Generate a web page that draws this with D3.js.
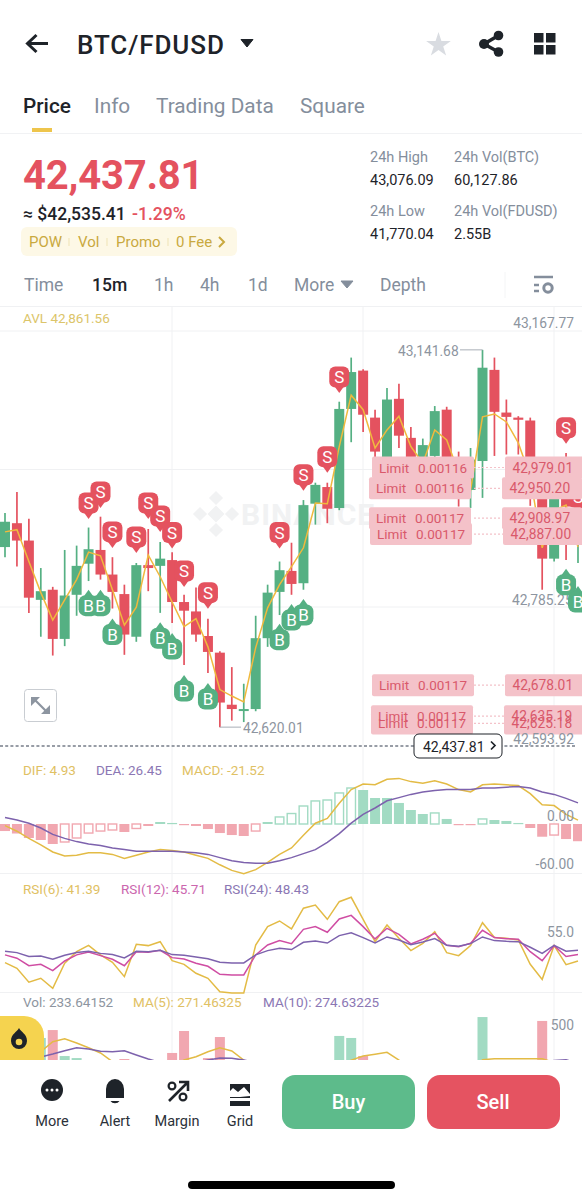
<!DOCTYPE html>
<html><head><meta charset="utf-8">
<script src="https://cdn.jsdelivr.net/npm/d3@7"></script>
<style>html,body{margin:0;padding:0;background:#fff}svg{display:block;font-family:Roboto,"Noto Sans",sans-serif}</style>
</head><body><div id="chart"></div>
<script>
// ---------- data ----------
const candleHigh=[42916,42945,42908,42840,42814,42865,42871,42896,42911,42855,42817,42847,42894,42876,42862,42803,42813,42770,42725,42703,42680,42774,42817,42849,42875,42934,42958,42958,43070,43131,43115,43059,43089,43095,43035,43019,43064,43063,43001,43006,43141.68,43131,43073,43050,43048,42976,42955,42999,42914];
const candleOpen=[42869,42902,42878,42796,42810,42742,42803,42846,42865,42831,42804,42745,42844,42843,42851,42793,42780,42746,42723,42651,42643,42645,42743,42807,42836,42819,42929,42952,42923,43060,43113,43048,42992,43074,43020,42992,42995,43059,42992,42948,42988,43114,43055,43048,43044,42937,42853,42948,42893];
const candleClose=[42904,42878,42799,42808,42742,42802,42843,42866,42831,42807,42748,42844,42840,42853,42793,42781,42748,42724,42654,42645,42645,42743,42806,42837,42818,42927,42955,42922,43060,43111,43052,43001,43073,43023,42990,43010,43057,42992,42959,42990,43117,43056,43049,43045,42987,42853,42937,42925,42907];
const candleLow=[42855,42842,42778,42745,42719,42732,42774,42822,42824,42784,42720,42738,42808,42778,42764,42706,42738,42695,42620.01,42629,42627,42642,42731,42775,42803,42810,42900,42902,42920,43014,43028,42966,42976,43006,42981,42976,42969,42965,42925,42923,42937,42995,42997,42997,42926,42810,42849,42851,42847];
const priceMA=[42890,42893,42849,42806,42768,42796,42824,42862,42857,42810,42761,42786,42858,42828,42793,42759,42770,42731,42672,42663,42655,42730,42785,42817,42842,42868,42930,42929,43008,43079,43059,43006,43031,43050,43008,42985,43031,43017,42972,42948,43049,43053,43042,43013,42966,42868,42920,42927,42869];
const priceDomain=[42593.92,43167.77];

const sellIndex=[7,8,9,11,12,13,14,15,17,23,25,27,28,47,48];
const sellPrice=[42930,42945,42890,42883,42930,42912,42889,42836,42806,42889,42969,42994,43104,43034,42938];
const buyIndex=[7,8,9,13,14,15,17,23,24,25,47,48];
const buyPrice=[42788,42788,42748,42743,42728,42670,42659,42741,42768,42775,42817,42793];

const limitPrices=[42979.01,42950.20,42908.97,42887.00,42678.01,42635.19,42625.18];
const limitQty=["0.00116","0.00116","0.00117","0.00117","0.00117","0.00117","0.00117"];

const macdHist=[-8.8,-11.9,-17.5,-20,-25,-22.5,-17.5,-11.3,-8.8,-7.5,-10,-5.6,-2.5,2.5,1.3,-1.3,-2.5,-6.3,-11.3,-13.8,-15,-8.8,2.5,8.8,13.1,22.5,28.8,30,38.8,45,42.5,32.5,32.5,26.3,17.5,12.5,13.8,6.3,-1.3,-1.3,6.3,5,3.8,1.3,-5,-15.9,-13.8,-18.8,-21.52];
const macdDIF=[-2,-9,-18,-26,-35,-40,-39,-36,-36,-38,-43,-39,-35,-32,-33,-35,-39,-43,-51,-58,-62,-57,-48,-38,-30,-14,1,7,26,43,50,49,56,57,53,51,54,50,43,40,49,50,49,48,38,24,23,12,4.93];
const macdDEA=[8,5,1,-5,-13,-18,-22,-25,-27,-30,-32,-34,-34,-34,-34,-35,-36,-38,-42,-46,-48,-49,-49,-46,-42,-37,-32,-23,-12,1,12,20,29,33,37,40,42,43,43,43,45,45,46,47,45,40,37,32,26.45];

const rsi6=[40.3,36.6,27.4,30,23.4,39.9,47.5,51.7,45.4,40.5,31.1,52.4,51.5,54.1,41.6,39.2,33.3,30,21.2,20.4,20.4,51.9,64,67.7,62.5,76.1,78.2,68.8,80.4,83.3,68.8,54.1,65.1,56.3,48.2,53,60.7,46.9,44.9,51.5,66.6,56.8,56.3,55.2,39.2,29.3,51.5,39,41.39];
const rsi12=[45.4,43.2,38.3,39.2,35,41.4,45.4,47.3,44.9,42.5,38.3,47.5,47.1,48.4,43.6,42.7,39.9,37.9,32.6,32.2,32.2,45.4,51.9,54.8,52.8,62.2,64,60.3,69,71.4,64,55.9,62.9,58.9,52.6,55.7,59.6,51.7,50.8,53,61.6,56.8,56.1,55.7,47.5,41.6,51.5,44.3,45.71];
const rsi24=[47.8,46.9,44.3,44.7,42.5,45.1,46.9,47.8,46.4,45.6,43.4,47.8,47.5,48.4,45.6,45.1,44,42.9,40.5,40.1,40.1,45.4,48.2,49.7,48.9,53.7,54.6,53.2,58.1,60,56.8,53.2,57.2,55.2,52.1,53.9,56.1,51.7,51.1,52.8,57.2,54.8,54.3,54.1,50.4,46.4,51.7,47.8,48.43];

// bars below the panel's cut-off edge cannot be read: those are rough estimates
const volume=[200,210,230,463,522,328,313,190,180,200,306,220,180,170,351,515,250,313,470,220,180,280,210,170,180,220,190,210,478,463,328,240,190,180,170,190,210,170,160,200,619,230,170,150,210,590,240,220,233.64];
const volMA5=[150,180,200,360,435,457,425,390,351,286,230,180,150,160,250,298,323,360,390,366,298,240,180,160,170,180,200,230,250,298,328,341,356,298,220,180,160,150,150,160,300,308,308,308,308,308,280,271,271.46];
const volMA10=[120,250,306,321,343,368,390,381,363,360,368,336,306,280,260,260,280,298,313,311,298,280,270,260,250,240,230,230,240,250,260,265,270,270,260,250,240,230,230,230,250,260,265,270,270,280,295,300,274.63];

const tabLabels=["Price","Info","Trading Data","Square"];
const intervalLabels=["Time","15m","1h","4h","1d","More","Depth"];

// ---------- styles and layout ----------
const UP="#55b083",DOWN="#e4525f",UPL="#a2dbc3",DOWNL="#f1a7b0",INK="#1e2329",GRAY="#848e9c",
      YEL="#e3bb45",PUR="#7d62ad",MAG="#cf4da3",GRID="#f0f1f3",LBL="#8d95a0",PINK="#f4c2c9",PTXT="#d9596b";
const W=582,H=1200;
const svg=d3.select("#chart").append("svg").attr("width",W).attr("height",H).attr("viewBox",[0,0,W,H]);
const T=(x,y,s,o={})=>svg.append("text").attr("x",x).attr("y",y).attr("dominant-baseline","central")
   .attr("font-size",o.size||14).attr("fill",o.fill||INK).attr("font-weight",o.weight||400)
   .attr("text-anchor",o.anchor||"start").attr("letter-spacing",o.ls||null).text(s);

const n=candleOpen.length, idx=d3.range(n);
const x=d3.scaleLinear().domain([0,n-1]).range([5,578]);
const y=d3.scaleLinear().domain(priceDomain).range([746,331]);
const yMacd=d3.scaleLinear().domain([-60,0]).range([872,824]);
const yRsi=d3.scaleLinear().domain([0,100]).range([1023.9,871.9]);
const yVol=d3.scaleLinear().domain([0,500]).range([1100,1033]);

// ---------- header ----------
svg.append("path").attr("d","M48,43.5H28M36.5,35L27.5,43.5L36.5,52").attr("fill","none").attr("stroke",INK).attr("stroke-width",3);
T(77,44.5,"BTC/FDUSD",{size:26,weight:500,ls:"0.9px"});
svg.append("path").attr("d","M241,39.5H253L247,47Z").attr("fill",INK).attr("stroke",INK).attr("stroke-linejoin","round");
svg.append("path").attr("d",d3.symbol(d3.symbolStar,190)()).attr("transform","translate(438.5,45)").attr("fill","#d9dce1");
const sh=[[484,44],[498.5,35.5],[498.5,52]];
svg.append("path").attr("d",`M498.5,35.5L484,44L498.5,52`).attr("fill","none").attr("stroke",INK).attr("stroke-width",3.5);
sh.forEach((p,i)=>svg.append("circle").attr("cx",p[0]).attr("cy",p[1]).attr("r",i?4.8:5).attr("fill",INK));
[[534,33],[546,33],[534,45],[546,45]].forEach(p=>svg.append("rect").attr("x",p[0]).attr("y",p[1]).attr("width",9.5).attr("height",9.5).attr("fill",INK));

const tabX=[23,94,156,300];
tabLabels.forEach((t,i)=>T(tabX[i],106,t,{size:20.8,weight:i?400:500,fill:i?GRAY:INK}));
svg.append("rect").attr("x",32).attr("y",128).attr("width",20).attr("height",4).attr("fill","#eec54c");
svg.append("line").attr("x1",0).attr("x2",W).attr("y1",133.5).attr("y2",133.5).attr("stroke","#f1f2f4");

T(23,175,"42,437.81",{size:40,weight:700,fill:DOWN,ls:"-0.2px"});
T(23,214,"≈ $42,535.41",{size:17.5,weight:500,fill:INK});
T(132,214,"-1.29%",{size:17.6,weight:500,fill:DOWN});
svg.append("rect").attr("x",21).attr("y",227).attr("width",216).attr("height",29).attr("rx",6).attr("fill","#fdf8e6");
[["POW",29],["Vol",78],["Promo",116],["0 Fee",176]].forEach(d=>T(d[1],242,d[0],{size:15,fill:"#c9a93f"}));
[69,107,168].forEach(v=>svg.append("line").attr("x1",v).attr("x2",v).attr("y1",238).attr("y2",246).attr("stroke","#efe3b5"));
svg.append("path").attr("d","M219,237L224,242L219,247").attr("fill","none").attr("stroke","#c9a93f").attr("stroke-width",2);

[["24h High",370,157],["24h Vol(BTC)",454,157],["24h Low",370,211],["24h Vol(FDUSD)",454,211]].forEach(d=>T(d[1],d[2],d[0],{size:14.5,fill:GRAY}));
[["43,076.09",370,180],["60,127.86",454,180],["41,770.04",370,234],["2.55B",454,234]].forEach(d=>T(d[1],d[2],d[0],{size:14.5,fill:INK}));

const intX=[24,92,154,200,248,294,380];
intervalLabels.forEach((t,i)=>T(intX[i],285,t,{size:17.5,weight:i==1?500:400,fill:i==1?INK:GRAY}));
svg.append("path").attr("d","M341,281H353L347,288Z").attr("fill",GRAY).attr("stroke",GRAY).attr("stroke-linejoin","round");
svg.append("line").attr("x1",505).attr("x2",505).attr("y1",272).attr("y2",298).attr("stroke","#f4f5f6");
svg.append("path").attr("d","M534,277H553M534,285H539M534,291H539").attr("stroke",GRAY).attr("stroke-width",2.4).attr("fill","none");
svg.append("circle").attr("cx",548).attr("cy",288).attr("r",4.2).attr("fill","none").attr("stroke",GRAY).attr("stroke-width",3);

// ---------- grid ----------
[306.5,331,469.5,607,873.5,992.5].forEach(v=>svg.append("line").attr("x1",0).attr("x2",W).attr("y1",v).attr("y2",v).attr("stroke",GRID));
[172,363,554].forEach(v=>svg.append("line").attr("x1",v).attr("x2",v).attr("y1",307).attr("y2",1060).attr("stroke",GRID));

// watermark
const wm=svg.append("g").attr("fill","#f1f2f3");
[[216,498,5],[216,530,5],[200,514,5],[232,514,5],[216,514,6]].forEach(d=>wm.append("rect").attr("x",-d[2]).attr("y",-d[2]).attr("width",2*d[2]).attr("height",2*d[2]).attr("transform",`translate(${d[0]},${d[1]}) rotate(45)`));
T(241,514,"BINANCE",{size:30,weight:700,fill:"#f1f2f3",ls:"1px"});

// ---------- price panel ----------
T(23,318,"AVL 42,861.56",{size:13.5,fill:"#dcc56a"});
T(574,323,"43,167.77",{size:13.8,fill:LBL,anchor:"end"});

const isUp=i=>candleClose[i]>=candleOpen[i];
const candles=svg.append("g");
candles.selectAll("line").data(idx).join("line")
  .attr("x1",x).attr("x2",x).attr("y1",i=>y(candleHigh[i])).attr("y2",i=>y(candleLow[i]))
  .attr("stroke",i=>isUp(i)?UP:DOWN).attr("stroke-width",1.7);
candles.selectAll("rect").data(idx).join("rect")
  .attr("x",i=>x(i)-5).attr("width",10)
  .attr("y",i=>y(Math.max(candleOpen[i],candleClose[i])))
  .attr("height",i=>Math.max(2,Math.abs(y(candleOpen[i])-y(candleClose[i]))))
  .attr("fill",i=>isUp(i)?UP:DOWN);

const lineOf=(arr,sc)=>d3.line().x(i=>x(i)).y(i=>sc(arr[i]))(idx);
svg.append("path").attr("d",lineOf(priceMA,y)).attr("fill","none").attr("stroke","#f0b93e").attr("stroke-width",1.5);

// extreme labels
const iHi=candleHigh.indexOf(d3.max(candleHigh)), iLo=candleLow.indexOf(d3.min(candleLow));
svg.append("path").attr("d",`M${x(iHi)},${y(43141.68)}H460`).attr("stroke","#a8aeb6").attr("fill","none");
T(398,351,"43,141.68",{size:13.8,fill:LBL});
svg.append("path").attr("d",`M${x(iLo)},${y(42620.01)}H241`).attr("stroke","#a8aeb6").attr("fill","none");
T(243,728,"42,620.01",{size:13.8,fill:LBL});
T(512,600,"42,785.25",{size:13.8,fill:LBL});

// trade markers: shapes first, letters on top so overlapping tags keep both letters
const mk=svg.append("g"), mkText=svg.append("g");
sellIndex.forEach((ix,k)=>{
  const tr=`translate(${x(ix)},${y(sellPrice[k])})`;
  const g=mk.append("g").attr("transform",tr);
  g.append("path").attr("d","M-5,9L0,16L5,9Z").attr("fill",DOWN);
  g.append("rect").attr("x",-10).attr("y",-10.5).attr("width",20).attr("height",21).attr("rx",6).attr("fill",DOWN);
  mkText.append("text").attr("transform",tr).attr("text-anchor","middle").attr("dominant-baseline","central").attr("font-size",17).attr("fill","#fff").text("S");
});
buyIndex.forEach((ix,k)=>{
  const tr=`translate(${x(ix)},${y(buyPrice[k])})`;
  const g=mk.append("g").attr("transform",tr);
  g.append("path").attr("d","M-5,-9L0,-16L5,-9Z").attr("fill",UP);
  g.append("rect").attr("x",-10).attr("y",-10.5).attr("width",20).attr("height",21).attr("rx",7).attr("fill",UP);
  mkText.append("text").attr("transform",tr).attr("text-anchor","middle").attr("dominant-baseline","central").attr("font-size",17).attr("fill","#fff").text("B");
});

// limit orders
const limitNudge=[0,-3,-3,-2,0,-1,-1];
const lim=svg.append("g");
limitPrices.forEach((p,k)=>{
  const yy=y(p);
  lim.append("line").attr("x1",474).attr("x2",505).attr("y1",yy).attr("y2",yy).attr("stroke",PINK).attr("stroke-dasharray","2 2").attr("stroke-width",1.2);
});
limitPrices.forEach((p,k)=>{
  const yy=y(p),d=limitNudge[k];
  lim.append("rect").attr("x",372+d).attr("y",yy-11).attr("width",102).attr("height",22).attr("rx",2).attr("fill",PINK);
  lim.append("rect").attr("x",505+d).attr("y",yy-11).attr("width",80).attr("height",22).attr("rx",2).attr("fill",PINK);
});
limitPrices.forEach((p,k)=>{
  const yy=y(p),d=limitNudge[k];
  [[379+d,"Limit"],[418+d,limitQty[k]],[512.5+d,d3.format(",.2f")(p)]].forEach(c=>
    lim.append("text").attr("x",c[0]).attr("y",yy).attr("dominant-baseline","central").attr("font-size",c[1].includes(",")?13.8:13.5).attr("fill",PTXT).text(c[1]));
});

// last price line
T(574,739,"42,593.92",{size:13.8,fill:LBL,anchor:"end"});
svg.append("line").attr("x1",0).attr("x2",576).attr("y1",746).attr("y2",746).attr("stroke","#777e89").attr("stroke-dasharray","3 2.2").attr("stroke-width",1.3);
svg.append("rect").attr("x",414).attr("y",734).attr("width",88).attr("height",24).attr("rx",5).attr("fill","#fff").attr("stroke",INK);
T(423,747,"42,437.81",{size:14,fill:INK});
svg.append("path").attr("d","M491,741.5L495,745.5L491,749.5").attr("fill","none").attr("stroke",INK).attr("stroke-width",1.7);

// expand icon
svg.append("rect").attr("x",24.5).attr("y",689.5).attr("width",32).attr("height",32).attr("rx",3).attr("fill","#fff").attr("stroke","#c9cdd2");
svg.append("path").attr("d","M34,699L47,712").attr("stroke",LBL).attr("stroke-width",2.2);
svg.append("path").attr("d","M31,697H40L31,706ZM50,714H41L50,705Z").attr("fill",LBL);

// ---------- MACD ----------
T(23,770,"DIF: 4.93",{size:13.5,fill:"#dfc164"});
T(96,770,"DEA: 26.45",{size:13.5,fill:"#8b77b4"});
T(182,770,"MACD: -21.52",{size:13.5,fill:"#dfc164"});
const hollow=i=>i>0&&macdHist[i]>macdHist[i-1]&&Math.abs(macdHist[i])>2.6;
svg.append("g").selectAll("rect").data(idx).join("rect")
  .attr("x",i=>x(i)-5+(hollow(i)?.7:0))
  .attr("width",i=>hollow(i)?8.6:10)
  .attr("y",i=>Math.min(yMacd(0),yMacd(macdHist[i])))
  .attr("height",i=>Math.max(1.2,Math.abs(yMacd(macdHist[i])-yMacd(0))))
  .attr("fill",i=>hollow(i)?"#fff":(macdHist[i]>=0?UPL:DOWNL))
  .attr("stroke",i=>hollow(i)?(macdHist[i]>=0?UPL:DOWNL):"none").attr("stroke-width",1.4);
svg.append("path").attr("d",lineOf(macdDIF,yMacd)).attr("fill","none").attr("stroke",YEL).attr("stroke-width",1.5);
svg.append("path").attr("d",lineOf(macdDEA,yMacd)).attr("fill","none").attr("stroke",PUR).attr("stroke-width",1.5);
T(574,816,"0.00",{size:13.8,fill:LBL,anchor:"end"});
T(574,864,"-60.00",{size:13.8,fill:LBL,anchor:"end"});

// ---------- RSI ----------
T(23,889,"RSI(6): 41.39",{size:13.5,fill:"#dfc164"});
T(121,889,"RSI(12): 45.71",{size:13.5,fill:"#cb66ae"});
T(224,889,"RSI(24): 48.43",{size:13.5,fill:"#8b77b4"});
[[rsi6,YEL],[rsi12,MAG],[rsi24,PUR]].forEach(d=>svg.append("path").attr("d",lineOf(d[0],yRsi)).attr("fill","none").attr("stroke",d[1]).attr("stroke-width",1.5));
T(574,932,"55.0",{size:13.8,fill:LBL,anchor:"end"});

// ---------- volume ----------
T(23,1002,"Vol: 233.64152",{size:13.5,fill:LBL});
T(133,1002,"MA(5): 271.46325",{size:13.5,fill:"#dfc164"});
T(263,1002,"MA(10): 274.63225",{size:13.5,fill:"#8b77b4"});
svg.append("clipPath").attr("id","vclip").append("rect").attr("x",0).attr("y",1008).attr("width",W).attr("height",52);
const vg=svg.append("g").attr("clip-path","url(#vclip)");
vg.selectAll("rect").data(idx).join("rect")
  .attr("x",i=>x(i)-5).attr("width",10)
  .attr("y",i=>yVol(volume[i])).attr("height",i=>yVol(0)-yVol(volume[i]))
  .attr("fill",i=>isUp(i)?UPL:DOWNL);
vg.append("path").attr("d",lineOf(volMA5,yVol)).attr("fill","none").attr("stroke",YEL).attr("stroke-width",1.5);
vg.append("path").attr("d",lineOf(volMA10,yVol)).attr("fill","none").attr("stroke",PUR).attr("stroke-width",1.5);
T(574,1025,"500",{size:13.8,fill:LBL,anchor:"end"});

// flame button
svg.append("path").attr("d","M0,1016H24A20,20 0 0 1 44,1036V1060H0Z").attr("fill","#f5d34f");
svg.append("path").attr("d","M19,1028C21,1032 27,1034 27,1041A8,8 0 0 1 11,1041C11,1034 17,1032 19,1028Z").attr("fill",INK);
svg.append("circle").attr("cx",19).attr("cy",1042).attr("r",3.3).attr("fill","#f5d34f");

// ---------- bottom bar ----------
svg.append("circle").attr("cx",52).attr("cy",1090).attr("r",11).attr("fill",INK);
[47,52,57].forEach(v=>svg.append("circle").attr("cx",v).attr("cy",1090).attr("r",1.5).attr("fill","#fff"));
svg.append("path").attr("d","M106,1098V1089A9,10 0 0 1 124,1089V1098ZM110.5,1101H119.5A5,4 0 0 1 110.5,1101Z").attr("fill",INK);
svg.append("path").attr("d","M169,1101L187,1083M179,1082H188V1091").attr("fill","none").attr("stroke",INK).attr("stroke-width",2.6);
svg.append("circle").attr("cx",172).attr("cy",1086).attr("r",3.4).attr("fill","none").attr("stroke",INK).attr("stroke-width",2.2);
svg.append("circle").attr("cx",183).attr("cy",1097).attr("r",3.4).attr("fill","none").attr("stroke",INK).attr("stroke-width",2.2);
svg.append("path").attr("d","M230,1084H250V1094L244,1087L238,1092L233,1088L230,1091ZM230,1097H240L250,1096V1098H230Z").attr("fill",INK);
svg.append("rect").attr("x",230).attr("y",1101).attr("width",20).attr("height",5).attr("fill",INK);
[["More",52],["Alert",115],["Margin",177],["Grid",240]].forEach(d=>T(d[1],1121,d[0],{size:14.5,fill:"#2b3139",anchor:"middle"}));
svg.append("rect").attr("x",282).attr("y",1075).attr("width",133).attr("height",54).attr("rx",13).attr("fill","#5dbb8b");
svg.append("rect").attr("x",427).attr("y",1075).attr("width",133).attr("height",54).attr("rx",13).attr("fill","#e55361");
T(348.5,1102,"Buy",{size:20,weight:500,fill:"#fff",anchor:"middle"});
T(493,1102,"Sell",{size:20,weight:500,fill:"#fff",anchor:"middle"});
svg.append("rect").attr("x",188).attr("y",1181).attr("width",207).attr("height",8).attr("rx",4).attr("fill","#000");
</script></body></html>
